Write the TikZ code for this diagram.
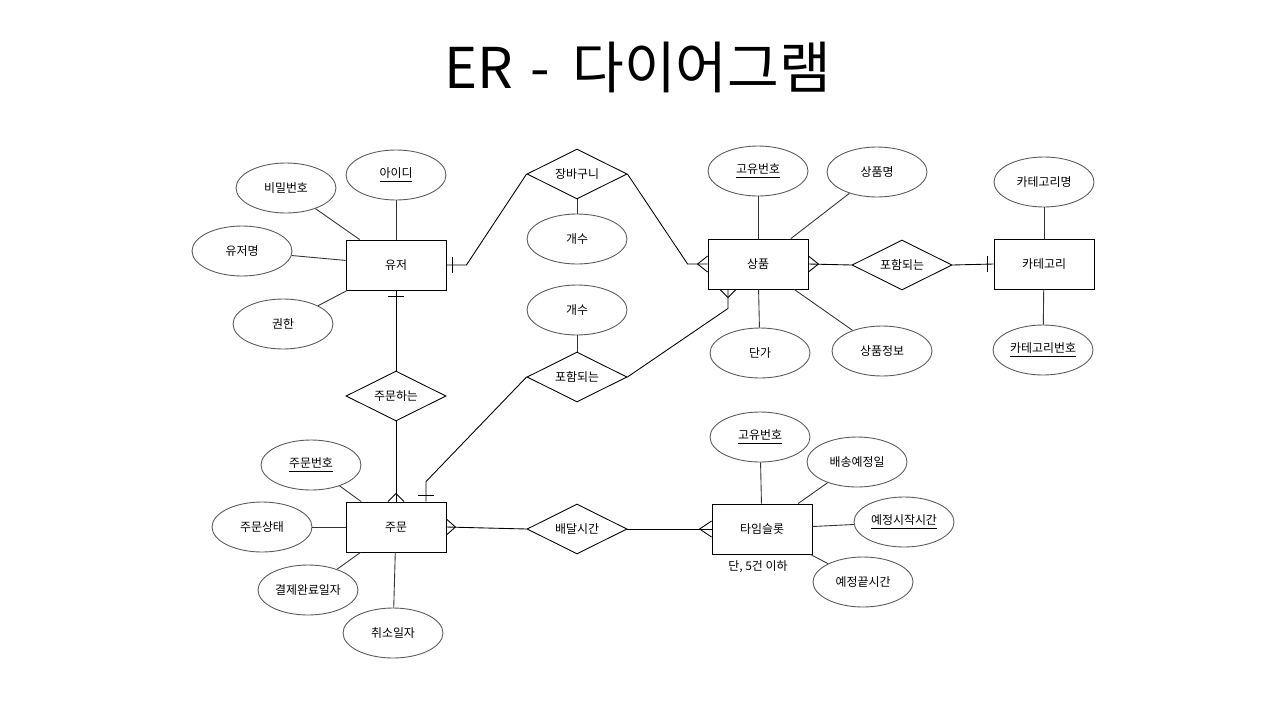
\documentclass[tikz,border=0pt]{standalone}
\usepackage{fontspec}
\setmainfont{Noto Sans CJK KR}
\usepackage{tikz}
\usetikzlibrary{shapes.geometric}

\begin{document}
\begin{tikzpicture}[x=0.02cm, y=-0.02cm, line width=0.5pt,
      every node/.style={font=\fontsize{6.8}{8}\selectfont},
      ent/.style={draw, rectangle, minimum width=2cm, minimum height=1cm,
                  inner sep=0pt},
      rel/.style={draw, diamond, minimum width=2cm, minimum height=1cm,
                  aspect=2, inner sep=0pt},
      attr/.style={draw=black!65, ellipse, minimum width=2cm,
                   minimum height=1cm, inner sep=0pt},
      link/.style={draw=black!80}
    ]
    \useasboundingbox (0,0) rectangle (1280,720);
    % title
    \node[font=\fontsize{32}{38}\selectfont] (title) at (638,67)
      {ER\hspace{0.3em}-\hspace{0.4em}다이어그램};
    % entities
    \node[ent] (user) at (396,265) {유저};
    \node[ent] (prod) at (758,264) {상품};
    \node[ent] (cat) at (1044,264) {카테고리};
    \node[ent] (order) at (396,527) {주문};
    \node[ent] (slot) at (762,529) {타임슬롯};
    \node (slotnote) at (758,567) {단, 5건 이하};
    % relations
    \node[rel] (cart) at (577,174) {장바구니};
    \node[rel] (inccat) at (902,265) {포함되는};
    \node[rel] (incord) at (577,377) {포함되는};
    \node[rel] (ordrel) at (396,396) {주문하는};
    \node[rel] (deliv) at (577,529) {배달시간};
    % attributes
    \node[attr] (pw) at (286,188) {비밀번호};
    \node[attr] (uid) at (396,175) {\underline{아이디}};
    \node[attr] (uname) at (242,251) {유저명};
    \node[attr] (role) at (283,324) {권한};
    \node[attr] (cnt1) at (577,239) {개수};
    \node[attr] (cnt2) at (577,310) {개수};
    \node[attr] (pid) at (758,171) {\underline{고유번호}};
    \node[attr] (pname) at (877,172) {상품명};
    \node[attr] (price) at (760,353) {단가};
    \node[attr] (pinfo) at (882,351) {상품정보};
    \node[attr] (cname) at (1044,182) {카테고리명};
    \node[attr] (cid) at (1043,350) {\underline{카테고리번호}};
    \node[attr] (oid) at (311,465) {\underline{주문번호}};
    \node[attr] (ostate) at (262,527) {주문상태};
    \node[attr] (paid) at (308,590) {결제완료일자};
    \node[attr] (cancel) at (393,633) {취소일자};
    \node[attr] (sid) at (760,437) {\underline{고유번호}};
    \node[attr] (sday) at (857,462) {배송예정일};
    \node[attr] (sstart) at (904,522) {\underline{예정시작시간}};
    \node[attr] (send) at (863,582) {예정끝시간};

    % attribute links
    \draw[link] (pw) -- (user);
    \draw[link] (uid) -- (user);
    \draw[link] (uname) -- (user);
    \draw[link] (role) -- (user);
    \draw[link] (cart) -- (cnt1);
    \draw[link] (incord) -- (cnt2);
    \draw[link] (pid) -- (prod);
    \draw[link] (pname) -- (prod);
    \draw[link] (price) -- (prod);
    \draw[link] (pinfo) -- (prod);
    \draw[link] (cname) -- (cat);
    \draw[link] (cid) -- (cat);
    \draw[link] (oid) -- (order);
    \draw[link] (ostate) -- (order);
    \draw[link] (paid) -- (order);
    \draw[link] (cancel) -- (order);
    \draw[link] (sid) -- (slot);
    \draw[link] (sday) -- (slot);
    \draw[link] (sstart) -- (slot);
    \draw[link] (send) -- (slot);

    % relation links with cardinality marks
    \draw (user.east) -- ++(20,0) -- (cart.west);
    \draw (user.east) ++(6,-8) -- ++(0,16);
    \draw (cart.east) -- ([xshift=-0.4cm]prod.west) -- (prod.west);
    \draw (prod.west) ++(0,-8) -- ++(-10,8) -- ++(10,8);
    \draw (prod.east) -- (inccat.west);
    \draw (prod.east) ++(0,-8) -- ++(10,8) -- ++(-10,8);
    \draw (inccat.east) -- (cat.west);
    \draw (cat.west) ++(-6,-8) -- ++(0,16);
    \draw (incord.east) -- ([xshift=-0.6cm,yshift=-0.38cm]prod.south)
      -- ([xshift=-0.6cm]prod.south);
    \draw ([xshift=-0.6cm]prod.south) ++(-8,0) -- ++(8,8) -- ++(8,-8);
    \draw (incord.west) -- ([xshift=0.6cm,yshift=0.4cm]order.north)
      -- ([xshift=0.6cm]order.north);
    \draw ([xshift=0.6cm]order.north) ++(-8,-6) -- ++(16,0);
    \draw (user.south) -- (ordrel.north);
    \draw (user.south) ++(-8,6) -- ++(16,0);
    \draw (ordrel.south) -- (order.north);
    \draw (order.north) ++(-8,0) -- ++(8,-8) -- ++(8,8);
    \draw (order.east) -- (deliv.west);
    \draw (order.east) ++(0,-8) -- ++(9,8) -- ++(-9,8);
    \draw (deliv.east) -- (slot.west);
    \draw (slot.west) ++(0,-8) -- ++(-12,8) -- ++(12,8);
  \end{tikzpicture}
\end{document}
